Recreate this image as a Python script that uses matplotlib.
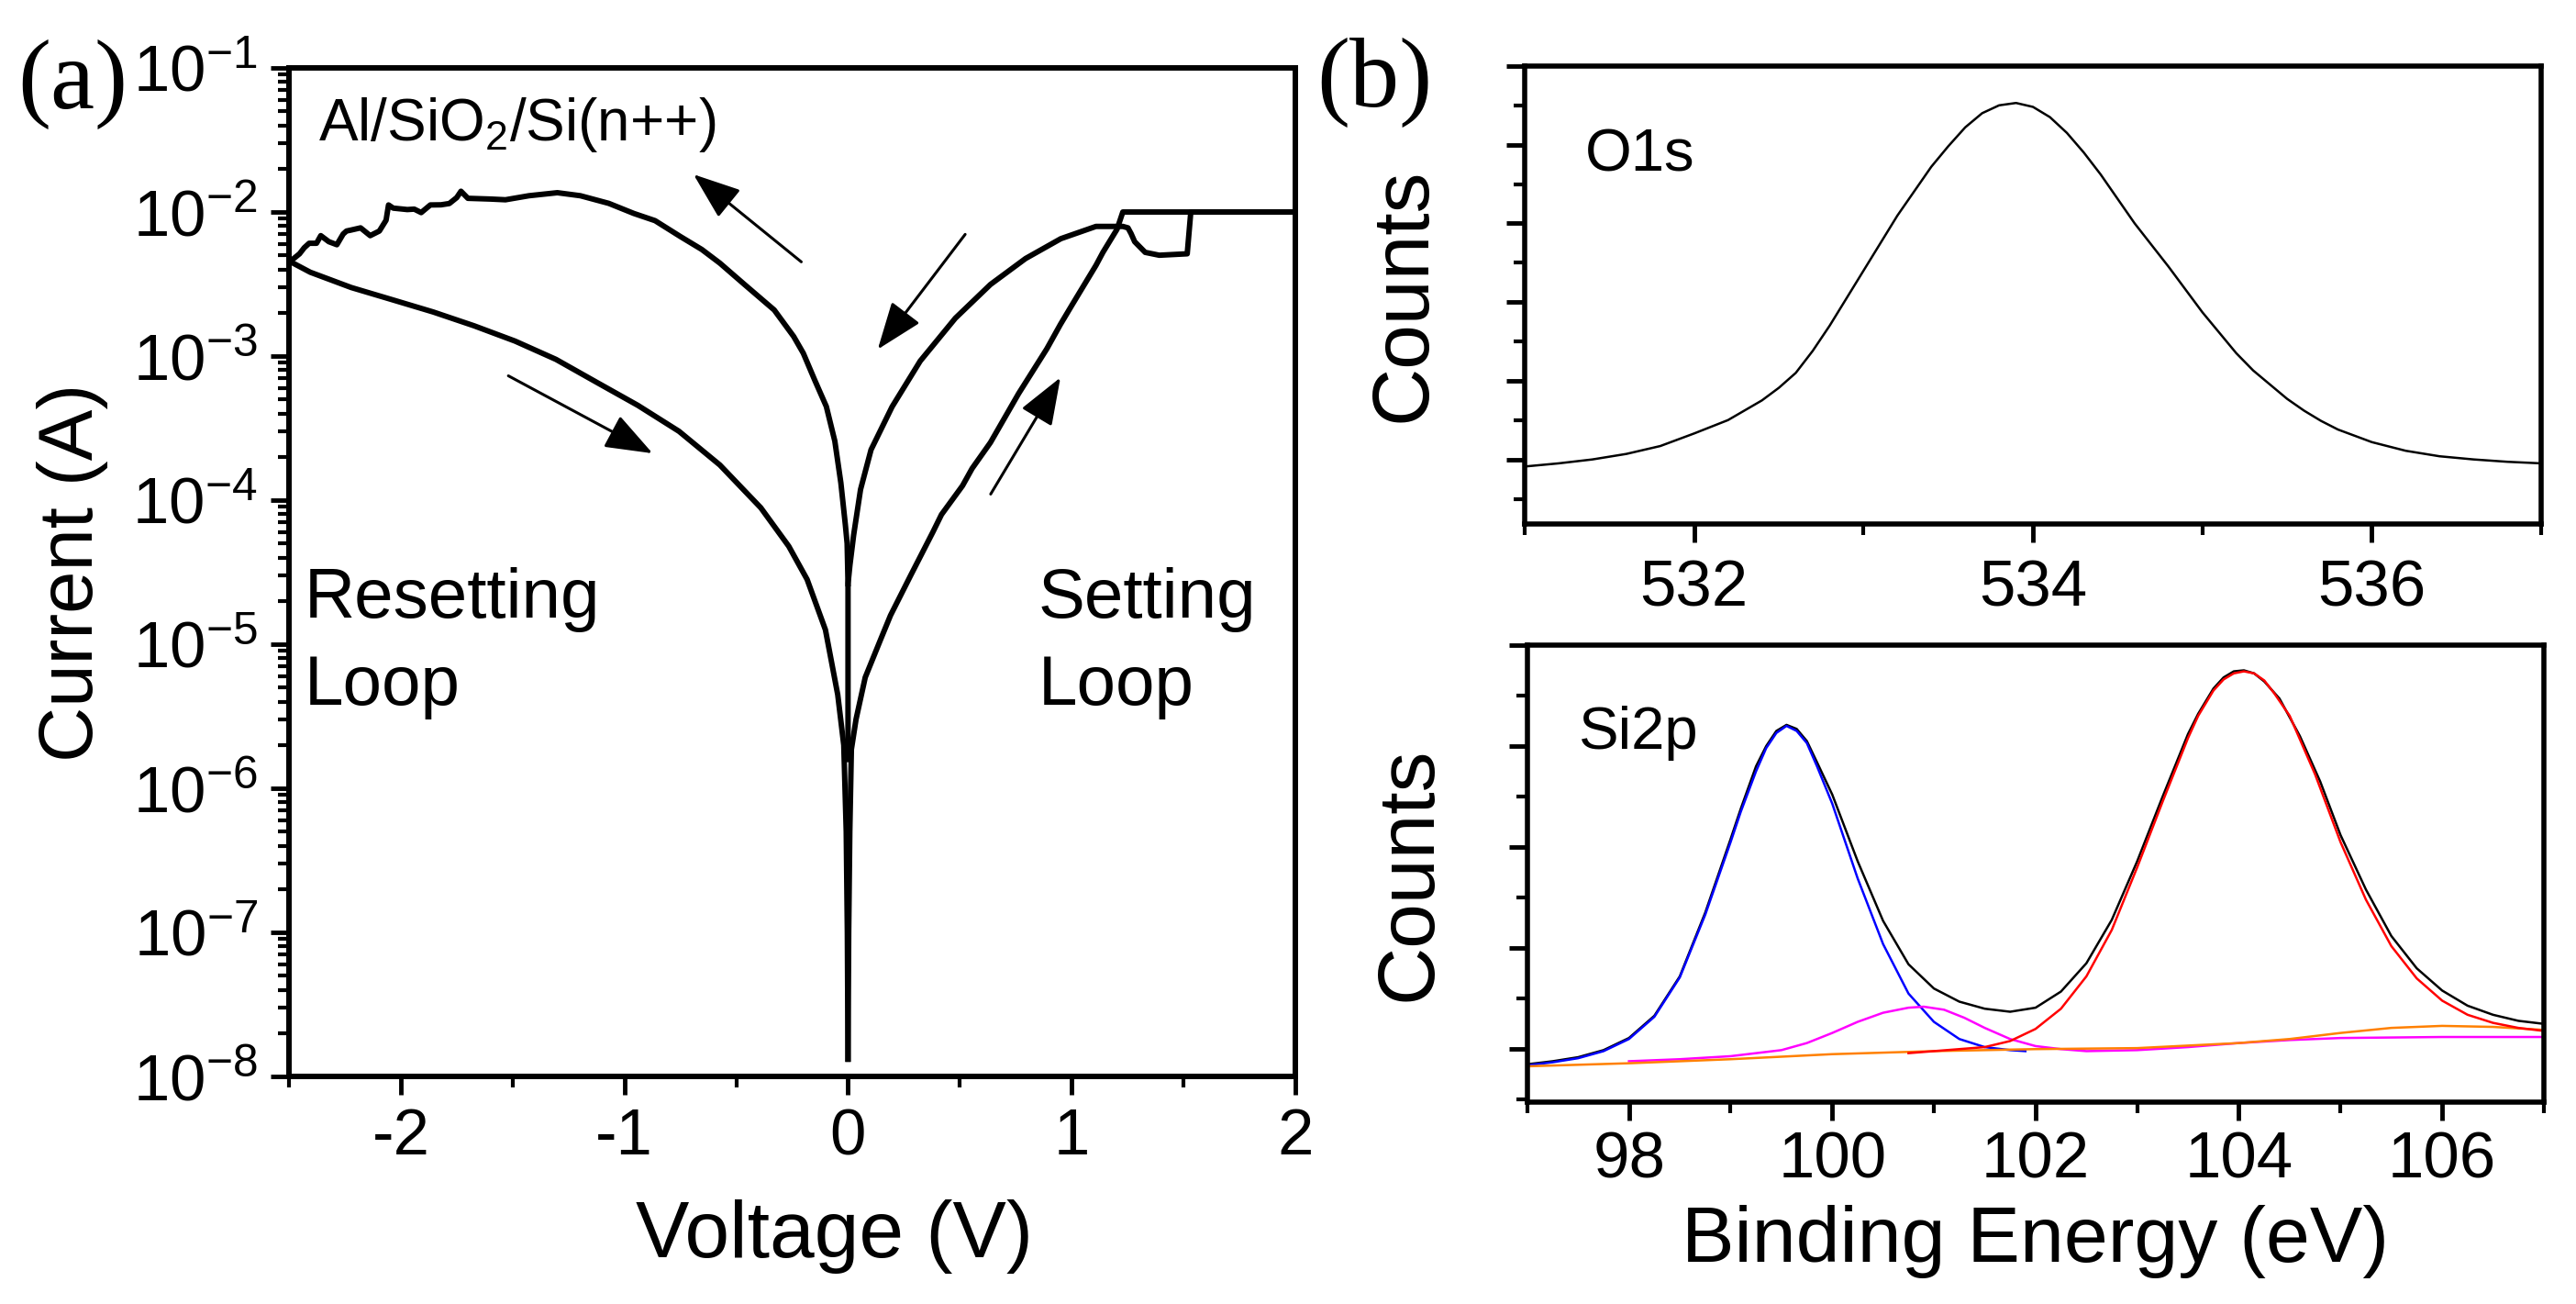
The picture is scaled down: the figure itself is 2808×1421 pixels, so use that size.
import numpy as np
import matplotlib
matplotlib.use("Agg")
import matplotlib.pyplot as plt
from matplotlib.ticker import MultipleLocator, LogLocator, NullFormatter

plt.rcParams['font.family'] = ['Liberation Sans', 'DejaVu Sans']
plt.rcParams['mathtext.fontset'] = 'custom'
plt.rcParams['mathtext.rm'] = 'Liberation Sans'
plt.rcParams['mathtext.it'] = 'Liberation Sans:italic'
plt.rcParams['axes.unicode_minus'] = False

# ---- panel (a): I-V loops, values read as (voltage, log10 current) ----
neg_up_v = [0.000, -0.004, -0.012, -0.032, -0.059, -0.097, -0.148, -0.200, -0.243, -0.33,
            -0.463, -0.573, -0.654, -0.75, -0.863, -0.958, -1.07, -1.197, -1.30, -1.427,
            -1.532, -1.60, -1.70, -1.731, -1.75, -1.783, -1.82, -1.868, -1.909, -1.94,
            -1.971, -2.034, -2.055, -2.066, -2.096, -2.137, -2.18, -2.222, -2.243, -2.258,
            -2.286, -2.322, -2.358, -2.377, -2.41, -2.432, -2.453, -2.487, -2.5]
neg_up_log = [-4.58, -4.30, -4.17, -3.88, -3.59, -3.35, -3.17, -2.98, -2.864, -2.68,
              -2.503, -2.355, -2.26, -2.17, -2.06, -2.01, -1.94, -1.887, -1.866, -1.887,
              -1.915, -1.91, -1.905, -1.856, -1.90, -1.941, -1.95, -1.951, -2.004, -1.98,
              -1.983, -1.973, -1.951, -2.057, -2.132, -2.164, -2.11, -2.125, -2.132, -2.153,
              -2.227, -2.206, -2.164, -2.217, -2.217, -2.248, -2.29, -2.333, -2.34]

neg_low_v = [-2.5, -2.405, -2.222, -2.038, -1.855, -1.672, -1.489, -1.306, -1.123, -0.940,
             -0.756, -0.573, -0.390, -0.265, -0.183, -0.101, -0.046, -0.019, -0.008, -0.003, 0.0]
neg_low_log = [-2.34, -2.418, -2.524, -2.609, -2.694, -2.790, -2.896, -3.023, -3.183, -3.342,
               -3.522, -3.756, -4.053, -4.32, -4.55, -4.90, -5.35, -5.70, -6.3, -7.0, -7.88]

pos_set_v = [0.0, 0.003, 0.008, 0.015, 0.036, 0.077, 0.145, 0.19, 0.281, 0.38, 0.418, 0.512,
             0.555, 0.637, 0.763, 0.889, 0.95, 1.0, 1.109, 1.14, 1.203, 1.229, 2.0]
pos_set_log = [-7.88, -7.0, -6.3, -5.73, -5.52, -5.23, -4.97, -4.80, -4.52, -4.22, -4.10, -3.90,
               -3.78, -3.60, -3.26, -2.95, -2.78, -2.65, -2.37, -2.28, -2.12, -2.0, -2.0]

pos_ret_v = [2.0, 1.533, 1.517, 1.392, 1.329, 1.282, 1.266, 1.252, 1.229, 1.109, 0.952, 0.794,
             0.637, 0.480, 0.323, 0.197, 0.103, 0.056, 0.025, 0.0086, 0.004, 0.0, 0.0]
pos_ret_log = [-2.0, -2.0, -2.29, -2.30, -2.28, -2.206, -2.15, -2.11, -2.10, -2.10, -2.185, -2.323,
               -2.503, -2.737, -3.034, -3.352, -3.65, -3.926, -4.244, -4.45, -4.52, -4.58, -5.8]

# arrows: (tail_v, tail_log, head_v, head_log)
arrows = [(-0.209, -2.346, -0.691, -1.739),
          (0.524, -2.155, 0.133, -2.953),
          (-1.519, -3.137, -0.874, -3.675),
          (0.638, -3.958, 0.950, -3.149)]

# ---- panel (b): XPS spectra (arb. counts) ----
o1s_e = [531.0, 531.2, 531.4, 531.6, 531.8, 532.0, 532.2, 532.4, 532.5, 532.6, 532.7, 532.8,
         533.0, 533.2, 533.4, 533.5, 533.6, 533.7, 533.8, 533.9, 534.0, 534.1, 534.2, 534.3,
         534.4, 534.6, 534.8, 535.0, 535.2, 535.3, 535.4, 535.5, 535.6, 535.7, 535.8, 536.0,
         536.2, 536.4, 536.6, 536.8, 537.0]
o1s_c = [0.91, 0.95, 1.00, 1.07, 1.17, 1.33, 1.50, 1.75, 1.91, 2.10, 2.38, 2.70,
         3.40, 4.10, 4.72, 4.98, 5.22, 5.40, 5.50, 5.53, 5.48, 5.35, 5.15, 4.90,
         4.62, 4.00, 3.45, 2.87, 2.35, 2.13, 1.95, 1.77, 1.62, 1.49, 1.38, 1.22,
         1.11, 1.04, 1.00, 0.97, 0.95]

si_e = [97.0, 97.25, 97.5, 97.75, 98.0, 98.25, 98.5, 98.75, 99.0, 99.1, 99.25, 99.35, 99.45,
        99.55, 99.65, 99.75, 99.85, 100.0, 100.25, 100.5, 100.75, 101.0, 101.25, 101.5, 101.75,
        102.0, 102.25, 102.5, 102.75, 103.0, 103.25, 103.5, 103.6, 103.75, 103.85, 103.95,
        104.05, 104.15, 104.25, 104.4, 104.6, 104.8, 105.0, 105.25, 105.5, 105.75, 106.0,
        106.25, 106.5, 106.75, 107.0]
si_c = [0.85, 0.88, 0.92, 0.99, 1.11, 1.33, 1.72, 2.35, 3.08, 3.38, 3.80, 4.00, 4.15,
        4.21, 4.17, 4.05, 3.84, 3.52, 2.86, 2.27, 1.84, 1.60, 1.47, 1.40, 1.37,
        1.41, 1.57, 1.85, 2.28, 2.86, 3.50, 4.12, 4.32, 4.57, 4.68, 4.74,
        4.75, 4.72, 4.64, 4.47, 4.10, 3.65, 3.12, 2.58, 2.12, 1.80, 1.58,
        1.43, 1.34, 1.28, 1.25]

si0_e = [97.0, 97.25, 97.5, 97.75, 98.0, 98.25, 98.5, 98.75, 99.0, 99.1, 99.25, 99.35, 99.45,
         99.55, 99.65, 99.75, 99.85, 100.0, 100.25, 100.5, 100.75, 101.0, 101.25, 101.5,
         101.75, 101.9]
si0_c = [0.84, 0.87, 0.91, 0.98, 1.10, 1.32, 1.71, 2.33, 3.05, 3.35, 3.75, 3.98, 4.13,
         4.20, 4.15, 4.03, 3.80, 3.43, 2.69, 2.04, 1.55, 1.27, 1.10, 1.02,
         0.99, 0.98]

sub_e = [98.0, 98.5, 99.0, 99.5, 99.75, 100.0, 100.25, 100.5, 100.75, 100.9, 101.1, 101.3,
         101.5, 101.75, 102.0, 102.25, 102.5, 103.0, 103.5, 104.0, 104.5, 105.0, 106.0, 107.0]
sub_c = [0.88, 0.90, 0.93, 0.99, 1.06, 1.16, 1.27, 1.36, 1.41, 1.42, 1.39, 1.31,
         1.21, 1.10, 1.03, 1.00, 0.98, 0.99, 1.02, 1.06, 1.09, 1.11, 1.12, 1.12]

bg_e = [97.0, 98.0, 99.0, 100.0, 101.0, 102.0, 103.0, 104.0, 104.5, 105.0, 105.5, 106.0, 106.5, 107.0]
bg_c = [0.83, 0.86, 0.90, 0.95, 0.98, 1.00, 1.01, 1.06, 1.10, 1.16, 1.21, 1.23, 1.22, 1.19]

sio2_e = [100.75, 101.0, 101.5, 101.75, 102.0, 102.25, 102.5, 102.75, 103.0, 103.25, 103.5,
          103.6, 103.75, 103.85, 103.95, 104.05, 104.15, 104.25, 104.35, 104.5, 104.75, 105.0,
          105.25, 105.5, 105.75, 106.0, 106.25, 106.5, 106.75, 107.0]
sio2_c = [0.96, 0.98, 1.02, 1.08, 1.20, 1.40, 1.72, 2.18, 2.80, 3.45, 4.08,
          4.30, 4.55, 4.66, 4.72, 4.74, 4.72, 4.65, 4.52, 4.30, 3.72, 3.05,
          2.48, 2.02, 1.70, 1.48, 1.34, 1.26, 1.21, 1.18]

fig = plt.figure(figsize=(28.08, 14.21), dpi=100)
ax_a = fig.add_axes([0.1122, 0.1745, 0.3906, 0.7734])
ax_o = fig.add_axes([0.5919, 0.5982, 0.3946, 0.3512])
ax_s = fig.add_axes([0.5929, 0.1548, 0.3946, 0.3505])

# panel (a)
lw_iv = 4.3
for v, lg in [(neg_up_v, neg_up_log), (neg_low_v, neg_low_log),
              (pos_set_v, pos_set_log), (pos_ret_v, pos_ret_log)]:
    ax_a.plot(v, 10.0 ** np.array(lg), color='k', lw=lw_iv, solid_joinstyle='round')

for tv, tl, hv, hl in arrows:
    ax_a.annotate('', xy=(hv, 10.0 ** hl), xytext=(tv, 10.0 ** tl),
                  arrowprops=dict(arrowstyle='-|>,head_length=0.8,head_width=0.3',
                                  color='k', lw=2.2, mutation_scale=40,
                                  shrinkA=0, shrinkB=0))

ax_a.set_yscale('log')
ax_a.set_xlim(-2.5, 2)
ax_a.set_ylim(1e-8, 1e-1)
ax_a.xaxis.set_major_locator(MultipleLocator(1))
ax_a.xaxis.set_minor_locator(MultipleLocator(0.5))
ax_a.yaxis.set_major_locator(LogLocator(base=10, numticks=20))
ax_a.yaxis.set_minor_locator(LogLocator(base=10, subs=np.arange(2, 10), numticks=20))
ax_a.yaxis.set_minor_formatter(NullFormatter())
ax_a.tick_params(axis='y', which='major', labelsize=51, pad=10)
ax_a.tick_params(axis='x', which='major', labelsize=51, pad=10)

ax_a.text(-2.37, 10 ** -1.50, 'Al/SiO$_2$/Si(n++)', fontsize=46, va='baseline')
ax_a.text(-2.43, 10 ** -4.815, 'Resetting', fontsize=55, va='baseline')
ax_a.text(-2.43, 10 ** -5.42, 'Loop', fontsize=55, va='baseline')
ax_a.text(0.85, 10 ** -4.815, 'Setting', fontsize=55, va='baseline')
ax_a.text(0.85, 10 ** -5.42, 'Loop', fontsize=55, va='baseline')

ax_a.set_xlabel('Voltage (V)', fontsize=63)
ax_a.set_ylabel('Current (A)', fontsize=60)
ax_a.xaxis.label.set_va('center')
ax_a.yaxis.label.set_va('center')
ax_a.xaxis.set_label_coords(0.542, -0.159)
ax_a.yaxis.set_label_coords(-0.215, 0.5)

# panel (b) top: O1s
ax_o.plot(o1s_e, o1s_c, color='k', lw=1.8)
ax_o.set_xlim(531, 537)
ax_o.set_ylim(0.18, 6.0)
ax_o.xaxis.set_major_locator(MultipleLocator(2))
ax_o.xaxis.set_minor_locator(MultipleLocator(1))
ax_o.text(0.059, 0.77, 'O1s', transform=ax_o.transAxes, fontsize=47, va='baseline')
ax_o.set_ylabel('Counts', fontsize=63)
ax_o.yaxis.label.set_va('center')
ax_o.yaxis.set_label_coords(-0.118, 0.5)
ax_o.tick_params(axis='x', which='major', labelsize=51, pad=13)

# panel (b) bottom: Si2p
ax_s.plot(si_e, si_c, color='k', lw=1.8)
ax_s.plot(si0_e, si0_c, color='#0000FF', lw=1.8)
ax_s.plot(sub_e, sub_c, color='#FF00FF', lw=1.8)
ax_s.plot(bg_e, bg_c, color='#FF8000', lw=1.8)
ax_s.plot(sio2_e, sio2_c, color='#FF0000', lw=1.8)
ax_s.set_xlim(97, 107)
ax_s.set_ylim(0.475, 5.0)
ax_s.xaxis.set_major_locator(MultipleLocator(2))
ax_s.xaxis.set_minor_locator(MultipleLocator(1))
ax_s.text(0.051, 0.773, 'Si2p', transform=ax_s.transAxes, fontsize=47, va='baseline')
ax_s.set_ylabel('Counts', fontsize=63)
ax_s.yaxis.label.set_va('center')
ax_s.yaxis.set_label_coords(-0.115, 0.5)
ax_s.set_xlabel('Binding Energy (eV)', fontsize=62)
ax_s.xaxis.label.set_va('center')
ax_s.xaxis.set_label_coords(0.5, -0.306)
ax_s.tick_params(axis='x', which='major', labelsize=51, pad=8)

for ax in (ax_o, ax_s):
    ax.yaxis.set_major_locator(MultipleLocator(1))
    ax.yaxis.set_minor_locator(MultipleLocator(0.5))
    ax.tick_params(axis='y', labelleft=False)

for ax, lw in ((ax_a, 4.3), (ax_o, 4.0), (ax_s, 4.0)):
    for sp in ax.spines.values():
        sp.set_linewidth(lw)
    ax.tick_params(which='both', direction='out', top=False, right=False)
    ax.tick_params(which='major', length=14.5, width=3.5)
    ax.tick_params(which='minor', length=8.5, width=3.0)

fig.text(0.007, 0.935, '(a)', fontsize=78, family='Liberation Serif', va='center')
fig.text(0.511, 0.937, '(b)', fontsize=78, family='Liberation Serif', va='center')

fig.savefig('out.png', dpi=100)
